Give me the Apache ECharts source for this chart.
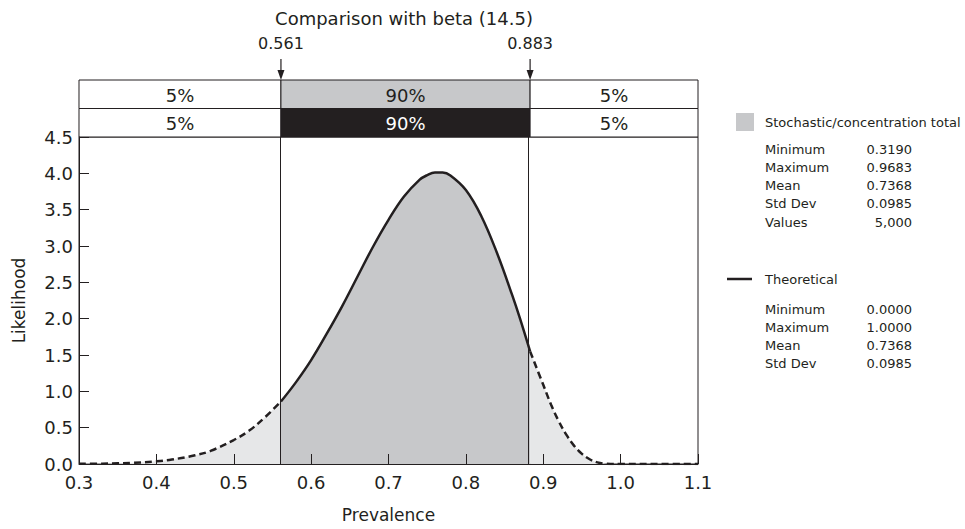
<!DOCTYPE html>
<html><head><meta charset="utf-8">
<script src="https://cdn.jsdelivr.net/npm/echarts@6/dist/echarts.min.js"></script>
<style>html,body{margin:0;padding:0;background:#fff}#c{width:965px;height:529px}</style>
</head><body><div id="c"></div>
<script>
// ---- data ----
const prevalence = [0.30,0.33,0.35,0.37,0.40,0.42,0.45,0.47,0.50,0.52,0.54,0.561,0.58,0.60,0.62,0.64,0.66,0.68,0.70,0.72,0.74,0.75,0.76,0.77,0.78,0.80,0.82,0.84,0.86,0.87,0.883,0.90,0.91,0.92,0.93,0.94,0.95,0.96,0.97,0.98,0.99,1.00,1.05,1.10];
const likelihood = [0.002,0.004,0.009,0.016,0.037,0.061,0.12,0.18,0.33,0.46,0.64,0.86,1.12,1.43,1.79,2.17,2.58,2.99,3.36,3.68,3.91,3.975,4.01,4.01,3.97,3.77,3.41,2.91,2.32,2.00,1.55,1.09,0.82,0.59,0.40,0.25,0.14,0.065,0.023,0.005,0.001,0.0,0.0,0.0];
const lowerCut = 0.561, upperCut = 0.883;
const cutLabels = ['0.561', '0.883'];
const bandEdges = [0.3, 0.561, 0.883, 1.1];
const bandLabels = ['5%', '90%', '5%'];
const titleText = 'Comparison with beta (14.5)';
const legend1 = 'Stochastic/concentration total';
const statLabels1 = ['Minimum', 'Maximum', 'Mean', 'Std Dev', 'Values'];
const statValues1 = ['0.3190', '0.9683', '0.7368', '0.0985', '5,000'];
const legend2 = 'Theoretical';
const statLabels2 = ['Minimum', 'Maximum', 'Mean', 'Std Dev'];
const statValues2 = ['0.0000', '1.0000', '0.7368', '0.0985'];

// ---- build ----
const FONT = '"DejaVu Sans", sans-serif';
const INK = '#231f20';
const MID = '#c7c8ca';
const LIGHT = '#e6e7e8';
const pts = prevalence.map((x, i) => [x, likelihood[i]]);
const leftPts = pts.filter(p => p[0] <= lowerCut);
const midPts = pts.filter(p => p[0] >= lowerCut && p[0] <= upperCut);
const rightPts = pts.filter(p => p[0] >= upperCut);

const cells = [];
[1, 0].forEach(row => {
  for (let i = 0; i < bandLabels.length; i++) {
    const kind = i === 1 ? (row === 1 ? 1 : 2) : 0;
    cells.push({ value: [bandEdges[i], bandEdges[i + 1], row, kind], label: bandLabels[i] });
  }
});

const chart = echarts.init(document.getElementById('c'), null, { renderer: 'svg' });

const lineCommon = {
  type: 'line', xAxisIndex: 0, yAxisIndex: 0, showSymbol: false, symbol: 'none',
  smooth: 0.4, animation: false, z: 1
};

const legendGraphics = [];
const LX = 765, VX = 912;
const S1 = 122, R1 = 149, TY = 279, R2 = 309, STEP = 18.3;
legendGraphics.push({ type: 'rect', shape: { x: 736, y: S1 - 9, width: 18, height: 18 }, style: { fill: MID } });
legendGraphics.push({ type: 'text', x: LX, y: S1, style: { text: legend1, font: '13px ' + FONT, fill: INK, textVerticalAlign: 'middle' } });
statLabels1.forEach((s, i) => {
  const y = R1 + i * STEP;
  legendGraphics.push({ type: 'text', x: LX, y, style: { text: s, font: '13px ' + FONT, fill: INK, textVerticalAlign: 'middle' } });
  legendGraphics.push({ type: 'text', x: VX, y, style: { text: statValues1[i], font: '13px ' + FONT, fill: INK, textAlign: 'right', textVerticalAlign: 'middle' } });
});
legendGraphics.push({ type: 'line', shape: { x1: 727, y1: TY, x2: 752, y2: TY }, style: { stroke: INK, lineWidth: 2.5 } });
legendGraphics.push({ type: 'text', x: LX, y: TY, style: { text: legend2, font: '13px ' + FONT, fill: INK, textVerticalAlign: 'middle' } });
statLabels2.forEach((s, i) => {
  const y = R2 + i * STEP;
  legendGraphics.push({ type: 'text', x: LX, y, style: { text: s, font: '13px ' + FONT, fill: INK, textVerticalAlign: 'middle' } });
  legendGraphics.push({ type: 'text', x: VX, y, style: { text: statValues2[i], font: '13px ' + FONT, fill: INK, textAlign: 'right', textVerticalAlign: 'middle' } });
});

chart.setOption({
  animation: false,
  backgroundColor: '#fff',
  textStyle: { fontFamily: FONT },
  title: {
    text: titleText, left: 399, top: 4, textAlign: 'center',
    textStyle: { fontFamily: FONT, fontSize: 18, fontWeight: 'normal', color: INK }
  },
  grid: [
    { left: 79, right: 267, top: 137, bottom: 65, show: true, borderColor: INK, borderWidth: 1, backgroundColor: 'transparent' },
    { left: 79, right: 267, top: 80, height: 57 }
  ],
  xAxis: [
    {
      type: 'value', gridIndex: 0, min: 0.3, max: 1.1, interval: 0.1, z: 20,
      name: 'Prevalence', nameLocation: 'middle', nameGap: 42,
      nameTextStyle: { fontFamily: FONT, fontSize: 17, color: INK },
      axisLine: { lineStyle: { color: INK, width: 1 } },
      axisTick: { inside: true, length: 10, lineStyle: { color: INK, width: 1 } },
      axisLabel: { fontFamily: FONT, fontSize: 18, color: INK, margin: 9, formatter: v => v.toFixed(1) },
      splitLine: { show: false }
    },
    { type: 'value', gridIndex: 1, min: 0.3, max: 1.1, show: false }
  ],
  yAxis: [
    {
      type: 'value', gridIndex: 0, min: 0, max: 4.5, interval: 0.5, z: 20,
      name: 'Likelihood', nameLocation: 'middle', nameGap: 52, nameRotate: 90,
      nameTextStyle: { fontFamily: FONT, fontSize: 17, color: INK },
      axisLine: { show: true, lineStyle: { color: INK, width: 1 } },
      axisTick: { show: true, inside: true, length: 10, lineStyle: { color: INK } },
      axisLabel: { fontFamily: FONT, fontSize: 18, color: INK, margin: 6, formatter: v => v.toFixed(1) },
      splitLine: { show: false }
    },
    { type: 'value', gridIndex: 1, min: 0, max: 2, show: false }
  ],
  series: [
    Object.assign({}, lineCommon, {
      data: leftPts,
      lineStyle: { color: INK, width: 2.5, type: [7, 4] },
      areaStyle: { color: LIGHT, opacity: 1 }
    }),
    Object.assign({}, lineCommon, {
      data: midPts,
      lineStyle: { color: INK, width: 2.5 },
      areaStyle: { color: MID, opacity: 1 },
      markLine: {
        silent: true, symbol: 'none', animation: false,
        label: { show: false },
        lineStyle: { color: INK, width: 1, type: 'solid' },
        data: [{ xAxis: lowerCut }, { xAxis: upperCut }]
      }
    }),
    Object.assign({}, lineCommon, {
      data: rightPts,
      lineStyle: { color: INK, width: 2.5, type: [7, 4] },
      areaStyle: { color: LIGHT, opacity: 1 }
    }),
    {
      type: 'custom', xAxisIndex: 1, yAxisIndex: 1, clip: false, silent: true,
      data: cells,
      renderItem: (params, api) => {
        const x0 = api.value(0), x1 = api.value(1), row = api.value(2), kind = api.value(3);
        const p0 = api.coord([x0, row + 1]);
        const p1 = api.coord([x1, row]);
        const fill = kind === 1 ? MID : (kind === 2 ? INK : '#fff');
        return {
          type: 'group',
          children: [
            { type: 'rect', shape: { x: p0[0], y: p0[1], width: p1[0] - p0[0], height: p1[1] - p0[1] },
              style: { fill, stroke: INK, lineWidth: 1 } },
            { type: 'text', x: (p0[0] + p1[0]) / 2, y: (p0[1] + p1[1]) / 2 + 1,
              style: { text: cells[params.dataIndex].label, font: '18px ' + FONT,
                fill: kind === 2 ? '#fff' : INK, textAlign: 'center', textVerticalAlign: 'middle' } }
          ]
        };
      }
    },
    {
      type: 'custom', xAxisIndex: 1, yAxisIndex: 1, clip: false, silent: true,
      data: [[lowerCut], [upperCut]],
      renderItem: (params, api) => {
        const p = api.coord([api.value(0), 2]);
        return {
          type: 'group',
          children: [
            { type: 'line', shape: { x1: p[0], y1: p[1] - 21, x2: p[0], y2: p[1] - 6 }, style: { stroke: INK, lineWidth: 1.2 } },
            { type: 'polygon', shape: { points: [[p[0] - 3.5, p[1] - 10], [p[0] + 3.5, p[1] - 10], [p[0], p[1]]] }, style: { fill: INK } },
            { type: 'text', x: p[0], y: p[1] - 37,
              style: { text: cutLabels[params.dataIndex], font: '16px ' + FONT, fill: INK, textAlign: 'center', textVerticalAlign: 'middle' } }
          ]
        };
      }
    }
  ],
  graphic: legendGraphics
});
</script></body></html>
